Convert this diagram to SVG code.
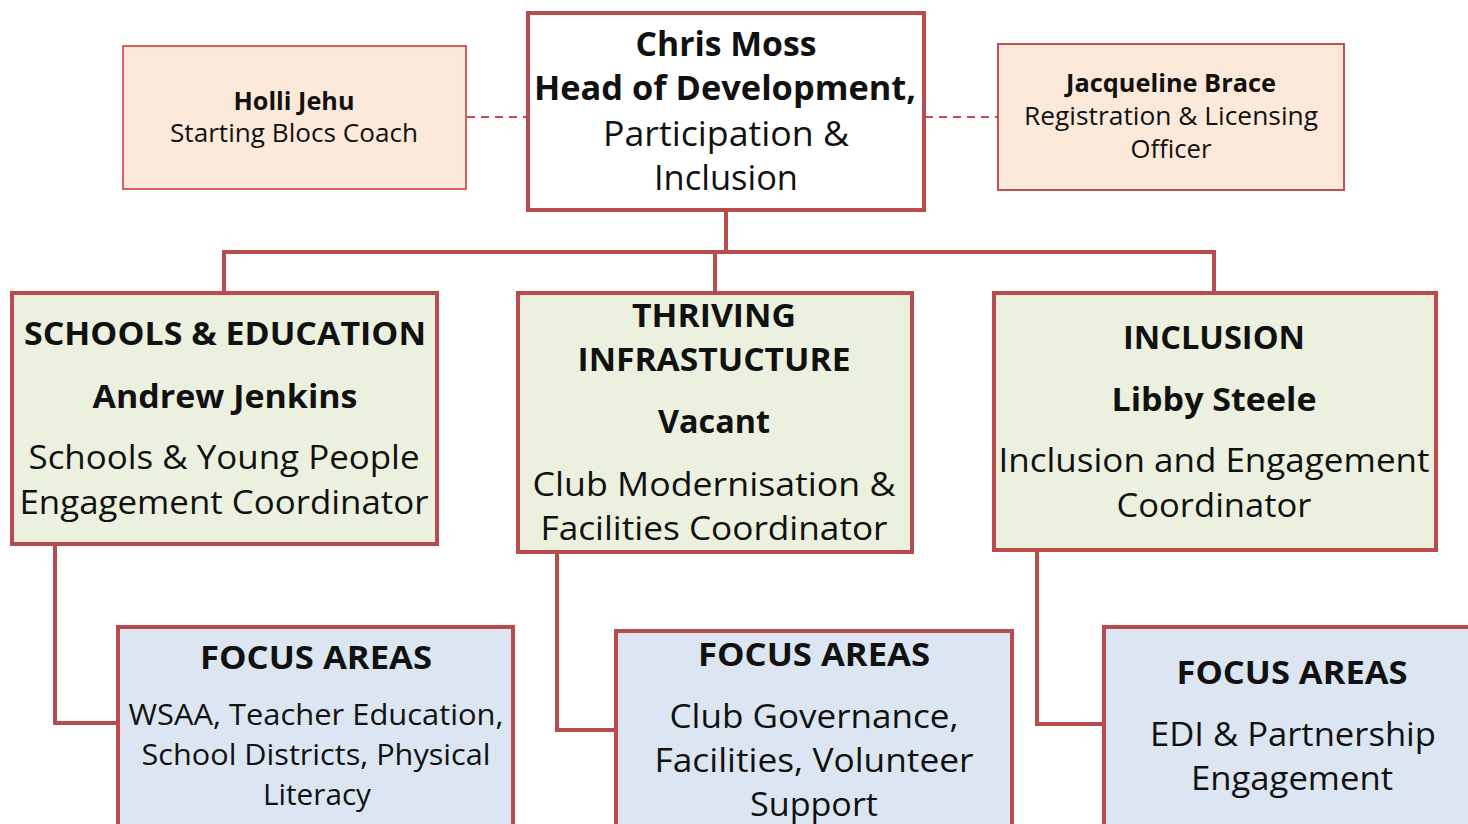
<svg xmlns="http://www.w3.org/2000/svg" width="1468" height="824" viewBox="0 0 1468 824">
<style>
  text { font-family: "Open Sans", "Noto Sans", "Liberation Sans", sans-serif; fill: #111; text-anchor: middle; }
  .b { font-weight: bold; }
  .box { stroke: #b84c4c; stroke-width: 4; }
  .peach { fill: #fde9d9; }
  .green { fill: #ebf1de; }
  .blue { fill: #dce6f2; }
  .conn { fill: none; stroke: #b84c4c; stroke-width: 4; }
  .dash { fill: none; stroke: #c0504d; stroke-width: 2; stroke-dasharray: 8 6; }
</style>
<rect width="1468" height="824" fill="#ffffff"/>
<g id="connectors">
  <line class="dash" x1="467" y1="117" x2="527" y2="117"/>
  <line class="dash" x1="925" y1="117" x2="997" y2="117"/>
  <path class="conn" d="M726 210 V252 M224 293 V252 H1214 V293 M715 252 V293"/>
  <path class="conn" d="M55 544 V723 H118"/>
  <path class="conn" d="M557 552 V730 H616"/>
  <path class="conn" d="M1037 550 V724 H1103"/>
</g>
<g id="holli">
  <rect x="123" y="46" width="343" height="143" class="peach" stroke="#cc2f2f" stroke-width="1.5"/>
  <text x="294" y="110" class="b" font-size="25" textLength="121" lengthAdjust="spacingAndGlyphs">Holli Jehu</text>
  <text x="294" y="142" font-size="25" textLength="248" lengthAdjust="spacingAndGlyphs">Starting Blocs Coach</text>
</g>
<g id="chris">
  <rect x="528" y="13" width="396" height="197" fill="#ffffff" class="box"/>
  <text x="726" y="56" class="b" font-size="34" textLength="181" lengthAdjust="spacingAndGlyphs">Chris Moss</text>
  <text x="725" y="100" class="b" font-size="34" textLength="382" lengthAdjust="spacingAndGlyphs">Head of Development,</text>
  <text x="726" y="146" font-size="34" textLength="246" lengthAdjust="spacingAndGlyphs">Participation &amp;</text>
  <text x="726" y="190" font-size="34" textLength="144" lengthAdjust="spacingAndGlyphs">Inclusion</text>
</g>
<g id="jacqueline">
  <rect x="998" y="44" width="346" height="146" class="peach" stroke="#c0504d" stroke-width="2"/>
  <text x="1171" y="92" class="b" font-size="25" textLength="210" lengthAdjust="spacingAndGlyphs">Jacqueline Brace</text>
  <text x="1171" y="125" font-size="25" textLength="294" lengthAdjust="spacingAndGlyphs">Registration &amp; Licensing</text>
  <text x="1171" y="158" font-size="25" textLength="81" lengthAdjust="spacingAndGlyphs">Officer</text>
</g>
<g id="schools">
  <rect x="12" y="293" width="425" height="251" class="green box"/>
  <text x="225" y="345" class="b" font-size="32" textLength="402" lengthAdjust="spacingAndGlyphs">SCHOOLS &amp; EDUCATION</text>
  <text x="225" y="408" class="b" font-size="32" textLength="265" lengthAdjust="spacingAndGlyphs">Andrew Jenkins</text>
  <text x="224" y="469" font-size="32" textLength="391" lengthAdjust="spacingAndGlyphs">Schools &amp; Young People</text>
  <text x="224" y="514" font-size="32" textLength="409" lengthAdjust="spacingAndGlyphs">Engagement Coordinator</text>
</g>
<g id="thriving">
  <rect x="518" y="293" width="394" height="259" class="green box"/>
  <text x="714" y="327" class="b" font-size="32" textLength="164" lengthAdjust="spacingAndGlyphs">THRIVING</text>
  <text x="714" y="371" class="b" font-size="32" textLength="273" lengthAdjust="spacingAndGlyphs">INFRASTUCTURE</text>
  <text x="714" y="433" class="b" font-size="32" textLength="112" lengthAdjust="spacingAndGlyphs">Vacant</text>
  <text x="714" y="496" font-size="32" textLength="363" lengthAdjust="spacingAndGlyphs">Club Modernisation &amp;</text>
  <text x="714" y="540" font-size="32" textLength="347" lengthAdjust="spacingAndGlyphs">Facilities Coordinator</text>
</g>
<g id="inclusion">
  <rect x="994" y="293" width="442" height="257" class="green box"/>
  <text x="1214" y="349" class="b" font-size="32" textLength="182" lengthAdjust="spacingAndGlyphs">INCLUSION</text>
  <text x="1214" y="411" class="b" font-size="32" textLength="205" lengthAdjust="spacingAndGlyphs">Libby Steele</text>
  <text x="1214" y="472" font-size="32" textLength="431" lengthAdjust="spacingAndGlyphs">Inclusion and Engagement</text>
  <text x="1214" y="517" font-size="32" textLength="195" lengthAdjust="spacingAndGlyphs">Coordinator</text>
</g>
<g id="focus1">
  <rect x="118" y="627" width="395" height="210" class="blue box"/>
  <text x="316" y="669" class="b" font-size="32" textLength="232" lengthAdjust="spacingAndGlyphs">FOCUS AREAS</text>
  <text x="316" y="725" font-size="29" textLength="375" lengthAdjust="spacingAndGlyphs">WSAA, Teacher Education,</text>
  <text x="316" y="765" font-size="29" textLength="349" lengthAdjust="spacingAndGlyphs">School Districts, Physical</text>
  <text x="317" y="805" font-size="29" textLength="108" lengthAdjust="spacingAndGlyphs">Literacy</text>
</g>
<g id="focus2">
  <rect x="616" y="631" width="396" height="210" class="blue box"/>
  <text x="814" y="666" class="b" font-size="32" textLength="232" lengthAdjust="spacingAndGlyphs">FOCUS AREAS</text>
  <text x="814" y="728" font-size="32" textLength="289" lengthAdjust="spacingAndGlyphs">Club Governance,</text>
  <text x="814" y="772" font-size="32" textLength="319" lengthAdjust="spacingAndGlyphs">Facilities, Volunteer</text>
  <text x="814" y="816" font-size="32" textLength="128" lengthAdjust="spacingAndGlyphs">Support</text>
</g>
<g id="focus3">
  <rect x="1104" y="627" width="380" height="210" class="blue box"/>
  <text x="1292" y="684" class="b" font-size="32" textLength="231" lengthAdjust="spacingAndGlyphs">FOCUS AREAS</text>
  <text x="1293" y="746" font-size="32" textLength="286" lengthAdjust="spacingAndGlyphs">EDI &amp; Partnership</text>
  <text x="1292" y="790" font-size="32" textLength="202" lengthAdjust="spacingAndGlyphs">Engagement</text>
</g>
</svg>
